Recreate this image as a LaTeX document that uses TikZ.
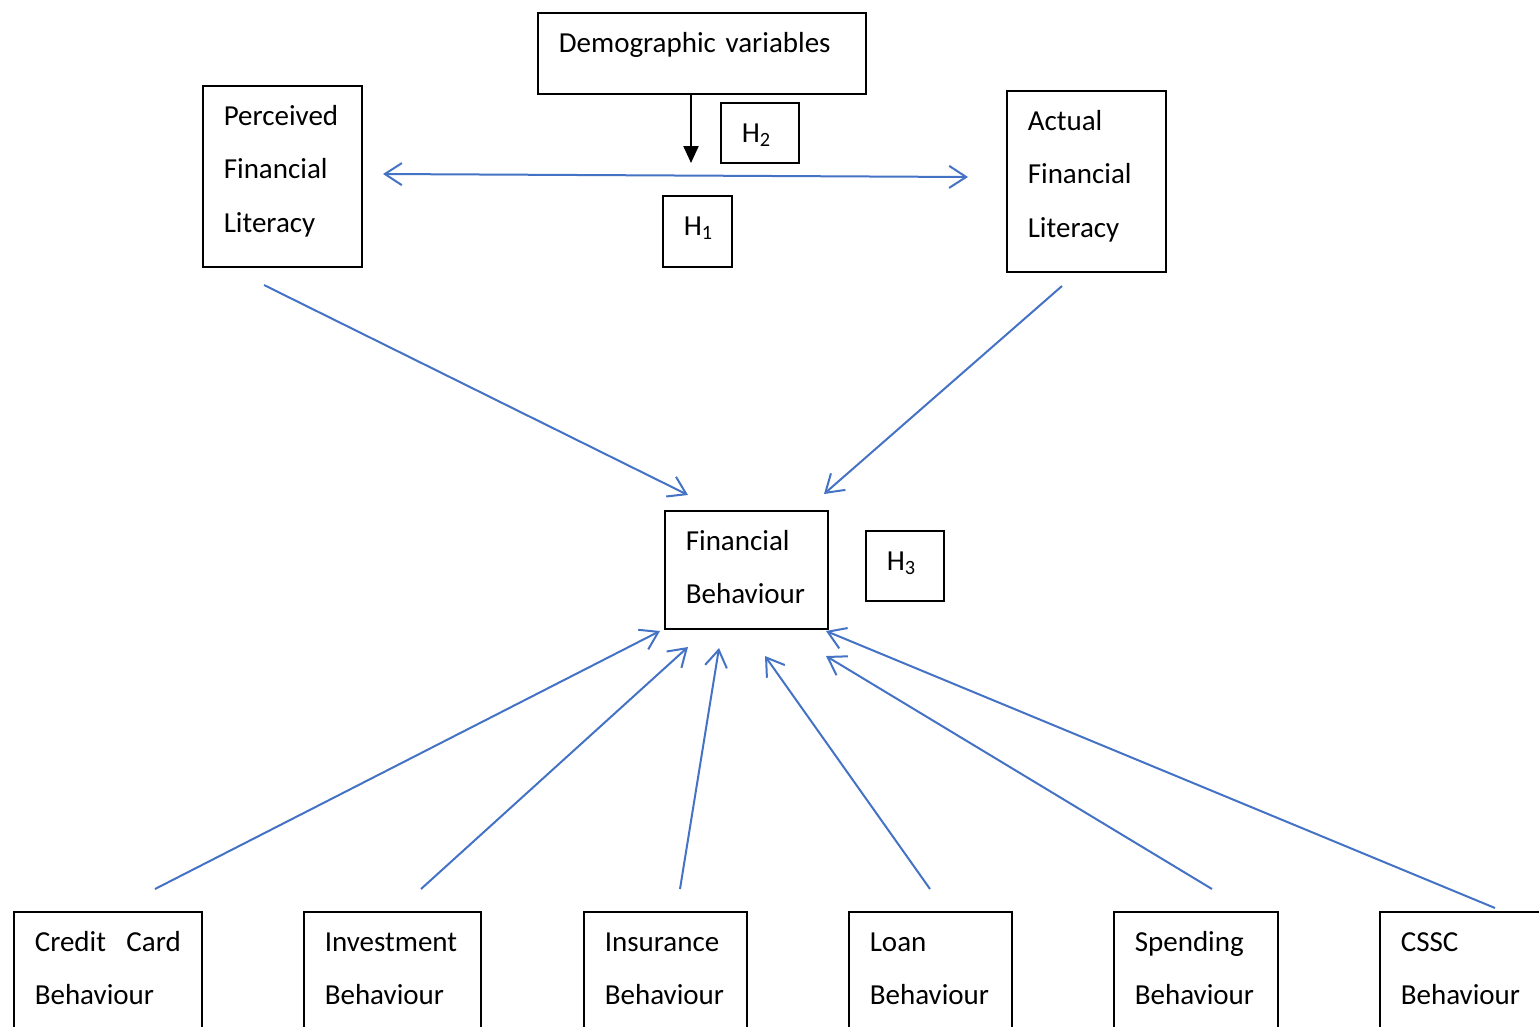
\documentclass[tikz,border=0pt]{standalone}
\usepackage{fontspec}
\setmainfont{Carlito}
\usepackage{xcolor}
\usetikzlibrary{arrows.meta}
\definecolor{linkblue}{RGB}{68,114,196}

\begin{document}
\begin{tikzpicture}[x=1pt,y=-1pt,>={Straight Barb[length=17pt,width=22pt]}]
  \tikzstyle{box}=[draw,line width=1.6pt,anchor=base west,align=left,
    inner xsep=21pt,inner ysep=0pt,text height=39pt,
    font=\fontsize{29}{53.5}\selectfont]
  \tikzstyle{link}=[color=linkblue,line width=2pt]

  \useasboundingbox (0,0) rectangle (1539,1026);
  \clip (0,0) rectangle (1539,1026);

  \node[box,text width=286pt,text depth=42pt]  (demo) at (537,52)  {Demographic variables};
  \node[box,text width=36pt,text depth=21pt]   (h2)   at (720,142) {H\textsubscript{2}};
  \node[box,text width=27pt,text depth=32pt]   (h1)   at (662,235) {H\textsubscript{1}};
  \node[box,text width=117pt,text depth=142pt] (pfl)  at (202,125) {Perceived\\Financial\\Literacy};
  \node[box,text width=117pt,text depth=142pt] (afl)  at (1006,130) {Actual\\Financial\\Literacy};
  \node[box,text width=121pt,text depth=79pt]  (fb)   at (664,550) {Financial\\Behaviour};
  \node[box,text width=36pt,text depth=31pt]   (h3)   at (865,570) {H\textsubscript{3}};

  \node[box,text width=146pt,text depth=100pt] (ccb) at (13,951)   {Credit\hfill Card\\Behaviour};
  \node[box,text width=135pt,text depth=100pt] (inb) at (303,951)  {Investment\\Behaviour};
  \node[box,text width=121pt,text depth=100pt] (isb) at (583,951)  {Insurance\\Behaviour};
  \node[box,text width=121pt,text depth=100pt] (lob) at (848,951)  {Loan\\Behaviour};
  \node[box,text width=122pt,text depth=100pt] (spb) at (1113,951) {Spending\\Behaviour};
  \node[box,text width=138pt,text depth=100pt] (csb) at (1379,951) {CSSC\\Behaviour};

  % free ends of the connectors
  \coordinate (demo-in) at (691,163);
  \coordinate (pfl-r)   at (383,174);
  \coordinate (afl-l)   at (968,177);
  \coordinate (pfl-out) at (264,285);
  \coordinate (afl-out) at (1062,286);
  \coordinate (fb-t1)   at (688,495);
  \coordinate (fb-t2)   at (824,494);
  \coordinate (ccb-out) at (155,889);
  \coordinate (inb-out) at (421,889);
  \coordinate (isb-out) at (680,889);
  \coordinate (lob-out) at (930,889);
  \coordinate (spb-out) at (1212,889);
  \coordinate (csb-out) at (1495,908);
  \coordinate (fb-b1)   at (660,631);
  \coordinate (fb-b2)   at (688,647);
  \coordinate (fb-b3)   at (719,648);
  \coordinate (fb-b4)   at (765,656);
  \coordinate (fb-b5)   at (826,656);
  \coordinate (fb-b6)   at (826,631);

  \draw[line width=2.2pt,-{Triangle[length=17pt,width=15pt]}] (demo.south -| demo-in) -- (demo-in);
  \draw[link,<->] (pfl-r) -- (afl-l);

  \path[link,->]
  (pfl-out) edge (fb-t1)
  (afl-out) edge (fb-t2)
  (ccb-out) edge (fb-b1)
  (inb-out) edge (fb-b2)
  (isb-out) edge (fb-b3)
  (lob-out) edge (fb-b4)
  (spb-out) edge (fb-b5)
  (csb-out) edge (fb-b6)
  ;
\end{tikzpicture}
\end{document}
